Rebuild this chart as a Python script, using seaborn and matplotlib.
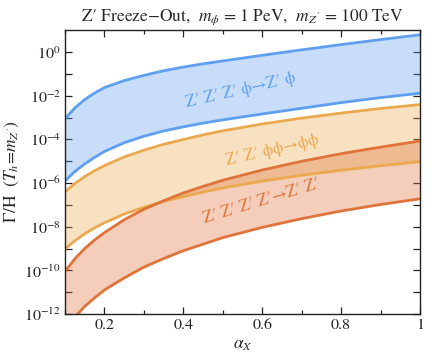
import numpy as np
import pandas as pd
import matplotlib
matplotlib.use("Agg")
import matplotlib.pyplot as plt
import seaborn as sns

# alpha_X sample points and log10(Gamma/H)
alpha = [0.1, 0.125, 0.15, 0.175, 0.2, 0.25, 0.3, 0.35, 0.4, 0.45, 0.5,
         0.6, 0.7, 0.8, 0.9, 1.0]

zphi_hi = [-3.05, -2.55, -2.17, -1.87, -1.62, -1.30, -1.06, -0.85, -0.68, -0.53, -0.40,
           -0.14, 0.11, 0.35, 0.58, 0.80]
zphi_lo = [-5.90, -5.47, -5.12, -4.82, -4.55, -4.15, -3.85, -3.61, -3.42, -3.25, -3.10,
           -2.83, -2.57, -2.31, -2.08, -1.88]

phiphi_hi = [-6.40, -6.02, -5.70, -5.43, -5.20, -4.80, -4.49, -4.22, -4.00, -3.79, -3.60,
             -3.29, -3.02, -2.79, -2.58, -2.40]
phiphi_lo = [-9.02, -8.64, -8.32, -8.05, -7.82, -7.42, -7.11, -6.84, -6.62, -6.41, -6.22,
             -5.91, -5.64, -5.41, -5.20, -5.02]

zz_hi = [-10.05, -9.47, -9.00, -8.61, -8.27, -7.68, -7.20, -6.81, -6.45, -6.15, -5.87,
         -5.40, -5.00, -4.65, -4.35, -4.07]
zz_lo = [-12.70, -12.15, -11.65, -11.26, -10.90, -10.35, -9.85, -9.46, -9.10, -8.80, -8.50,
         -8.03, -7.63, -7.28, -6.98, -6.72]

bands = [
    ("zphi", zphi_hi, zphi_lo, "#5f9ff0"),
    ("phiphi", phiphi_hi, phiphi_lo, "#eaa94f"),
    ("zz", zz_hi, zz_lo, "#e0733a"),
]

labels = [
    ("Z′ Z′ Z′ ϕ→Z′ ϕ", 0.545, 10 ** -1.75, 13, "#5f9ff0"),
    ("Z′ Z′ ϕϕ→ϕϕ", 0.625, 10 ** -4.52, 13, "#eaa94f"),
    ("Z′ Z′ Z′ Z′→Z′ Z′", 0.600, 10 ** -6.82, 17, "#e0733a"),
]

rows = []
for name, hi, lo, _ in bands:
    for a, h, l in zip(alpha, hi, lo):
        rows.append({"alpha": a, "val": 10 ** h, "curve": name + "_hi"})
        rows.append({"alpha": a, "val": 10 ** l, "curve": name + "_lo"})
df = pd.DataFrame(rows)

sns.set_style("ticks")
plt.rcParams["font.family"] = ["STIXGeneral", "DejaVu Serif"]
plt.rcParams["mathtext.fontset"] = "stix"

fig = plt.figure(figsize=(4.47, 3.6), dpi=100)
ax = fig.add_axes([0.1454, 0.1278, 0.7942, 0.7889])

for name, hi, lo, col in bands:
    ax.fill_between(alpha, [10 ** v for v in lo], [10 ** v for v in hi],
                    color=col, alpha=0.35, lw=0)
    for part in ("_hi", "_lo"):
        sns.lineplot(data=df[df["curve"] == name + part], x="alpha", y="val",
                     color=col, lw=2.0, ax=ax, legend=False)

for txt, x, y, rot, col in labels:
    ax.text(x, y, txt, color=col, fontsize=12, rotation=rot,
            ha="center", va="center", rotation_mode="anchor")

ax.set_yscale("log")
ax.set_xlim(0.1, 1.0)
ax.set_ylim(1e-12, 10 ** 1.02)

ax.set_xticks([0.2, 0.4, 0.6, 0.8, 1.0])
ax.set_xticklabels(["0.2", "0.4", "0.6", "0.8", "1"])
ax.set_xticks(np.arange(0.1, 1.0, 0.1), minor=True)
ax.set_yticks([10.0 ** k for k in range(-12, 1)])
ax.set_yticklabels([rf"$10^{{{k}}}$" if k % 2 == 0 else "" for k in range(-12, 1)])
ax.yaxis.set_minor_locator(matplotlib.ticker.NullLocator())

ax.tick_params(which="both", direction="in", top=True, right=True,
               labelsize=11.5, width=0.9, colors="#222222", pad=3)
ax.tick_params(which="major", length=5)
ax.tick_params(which="minor", length=3)
for s in ax.spines.values():
    s.set_linewidth(1.0)
    s.set_color("#222222")

ax.set_xlabel(r"$\alpha_X$", fontsize=12.5, labelpad=4)
ax.set_ylabel(r"Γ/H  $(T_h\!=\!m_{Z'})$", fontsize=12.5, labelpad=2)
ax.set_title(r"Z′ Freeze−Out,  $m_\phi$ = 1 PeV,  $m_{Z'}$ = 100 TeV",
             fontsize=12.5, pad=7)

fig.savefig("out.png", dpi=100)
